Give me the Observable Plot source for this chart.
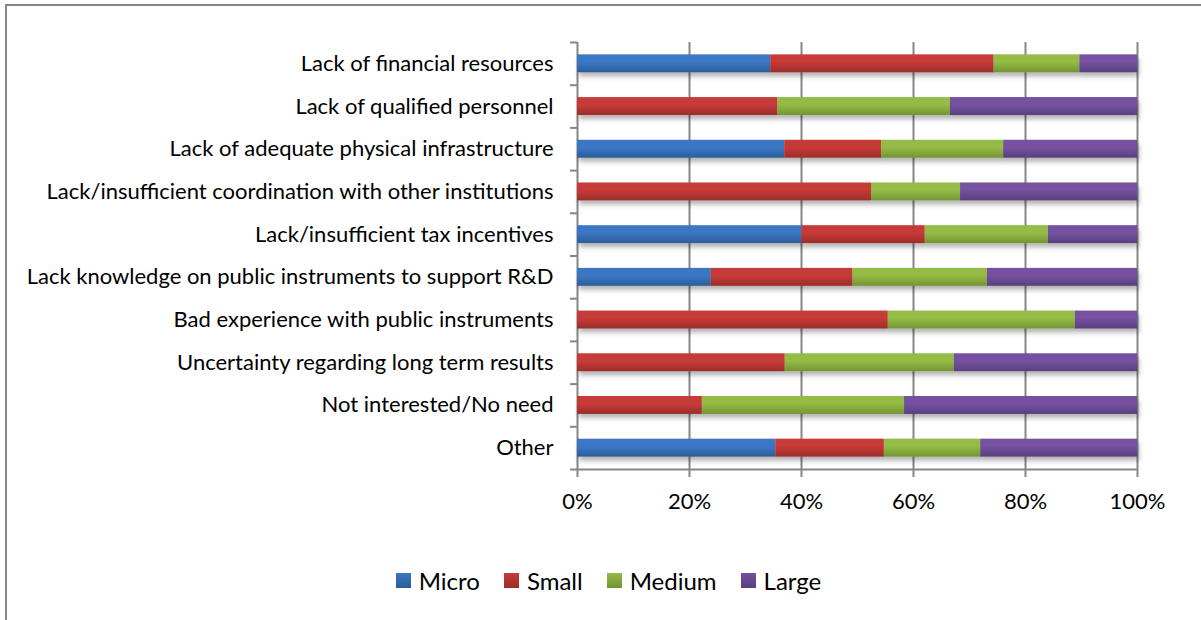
<!DOCTYPE html>
<html>
<head>
<meta charset="utf-8">
<script src="https://cdn.jsdelivr.net/npm/d3@7"></script>
<script src="https://cdn.jsdelivr.net/npm/@observablehq/plot@0.6"></script>
<style>
  html, body { margin: 0; padding: 0; background: #fff; }
  #wrap { position: relative; width: 1201px; height: 620px; overflow: hidden; font-family: Lato, "Open Sans", sans-serif; }
  #frame { position: absolute; left: 5px; top: 4px; width: 1200px; height: 640px; border-left: 2px solid #868686; border-top: 2px solid #868686; box-sizing: border-box; }
  #chart { position: absolute; left: 0; top: 0; }
  #legend { position: absolute; top: 566px; left: 0; width: 1201px; display: flex; justify-content: center; padding-left: 16px; box-sizing: border-box; font-size: 24px; color: #000; }
  .item { display: flex; align-items: center; margin: 0 12px; }
  .sw { width: 15px; height: 15px; margin-right: 8px; }
</style>
</head>
<body>
<div id="wrap">
  <div id="frame"></div>
  <div id="chart"></div>
  <div id="legend"></div>
</div>
<script>
const categories = [
  "Lack of financial resources",
  "Lack of qualified personnel",
  "Lack of adequate physical infrastructure",
  "Lack/insufficient coordination with other institutions",
  "Lack/insufficient tax incentives",
  "Lack knowledge on public instruments to support R&D",
  "Bad experience with public instruments",
  "Uncertainty regarding long term results",
  "Not interested/No need",
  "Other"
];
const sizes = ["Micro", "Small", "Medium", "Large"];
const micro  = [34.5,  0.0, 37.0,  0.0, 40.1, 23.9,  0.0,  0.0,  0.0, 35.4];
const small  = [39.9, 35.8, 17.3, 52.5, 22.0, 25.3, 55.5, 37.1, 22.3, 19.4];
const medium = [15.3, 30.8, 21.8, 15.9, 22.0, 24.0, 33.4, 30.2, 36.1, 17.2];
const large  = [10.3, 33.4, 23.9, 31.6, 15.9, 26.8, 11.1, 32.7, 41.6, 28.0];
const xTicks = [0, 0.2, 0.4, 0.6, 0.8, 1.0];
const colors = {Micro: "#3a77c5", Small: "#c63a37", Medium: "#93bb44", Large: "#7451a0"};
const colorsDark = {Micro: "#2d5c98", Small: "#9c2c2a", Medium: "#739433", Large: "#5a3f7d"};

const seriesValues = [micro, small, medium, large];
const rows = [];
categories.forEach((c, i) => {
  sizes.forEach((s, j) => {
    rows.push({category: c, size: s, value: seriesValues[j][i] / 100});
  });
});

const W = 1201, H = 540;
const mTop = 42, mBottom = 71, mLeft = 577, mRight = 64;
const step = (H - mTop - mBottom) / categories.length;
const gray = "#868686";

const chart = Plot.plot({
  width: W,
  height: H,
  marginTop: mTop,
  marginBottom: mBottom,
  marginLeft: mLeft,
  marginRight: mRight,
  style: {fontFamily: "Lato, 'Open Sans', sans-serif", fontSize: "22px", color: "#000", background: "transparent"},
  x: {domain: [0, 1], ticks: xTicks, tickFormat: d3.format(".0%")},
  y: {domain: categories, paddingInner: 0.58, paddingOuter: 0.29, round: false},
  color: {domain: sizes, range: sizes.map(s => `url(#grad-${s})`)},
  marks: [
    Plot.gridX(xTicks, {stroke: gray, strokeOpacity: 1, strokeWidth: 2}),
    Plot.axisX({ticks: xTicks, tickSize: 8, tickPadding: 16, stroke: gray, strokeWidth: 2, label: null, tickFormat: d3.format(".0%"), fontSize: 22}),
    Plot.ruleY([categories[categories.length - 1]], {x1: 0, x2: 1, dy: step / 2, stroke: gray, strokeWidth: 2}),
    Plot.axisY({tickSize: 7, tickFormat: () => "", dy: -step / 2, stroke: gray, strokeWidth: 2, label: null}),
    Plot.axisY([categories[categories.length - 1]], {tickSize: 7, tickFormat: () => "", dy: step / 2, stroke: gray, strokeWidth: 2, label: null}),
    Plot.axisY({tickSize: 0, tickPadding: 24, label: null, fontSize: 22}),
    Plot.barX(rows, Plot.stackX({x: "value", y: "category", fill: "size", order: sizes, filter: d => d.value > 0}))
  ]
});

// gradients and shadow
const svgNS = "http://www.w3.org/2000/svg";
const defs = document.createElementNS(svgNS, "defs");
sizes.forEach(s => {
  const g = document.createElementNS(svgNS, "linearGradient");
  g.setAttribute("id", `grad-${s}`);
  g.setAttribute("x1", "0"); g.setAttribute("y1", "0");
  g.setAttribute("x2", "0"); g.setAttribute("y2", "1");
  [["0", colors[s]], ["0.45", colors[s]], ["1", colorsDark[s]]].forEach(([o, c]) => {
    const st = document.createElementNS(svgNS, "stop");
    st.setAttribute("offset", o); st.setAttribute("stop-color", c);
    g.appendChild(st);
  });
  defs.appendChild(g);
});
const f = document.createElementNS(svgNS, "filter");
f.setAttribute("id", "shadow");
f.setAttribute("x", "-5%"); f.setAttribute("y", "-30%");
f.setAttribute("width", "110%"); f.setAttribute("height", "190%");
const ds = document.createElementNS(svgNS, "feDropShadow");
ds.setAttribute("dx", "2"); ds.setAttribute("dy", "4");
ds.setAttribute("stdDeviation", "2.5"); ds.setAttribute("flood-color", "#000");
ds.setAttribute("flood-opacity", "0.3");
f.appendChild(ds);
defs.appendChild(f);
chart.insertBefore(defs, chart.firstChild);
chart.querySelectorAll("g[aria-label='bar']").forEach(g => g.setAttribute("filter", "url(#shadow)"));

document.getElementById("chart").appendChild(chart);

const legend = document.getElementById("legend");
sizes.forEach(s => {
  const item = document.createElement("div");
  item.className = "item";
  const sw = document.createElement("div");
  sw.className = "sw";
  sw.style.background = `linear-gradient(${colors[s]}, ${colorsDark[s]})`;
  const t = document.createElement("span");
  t.textContent = s;
  item.appendChild(sw); item.appendChild(t);
  legend.appendChild(item);
});
</script>
</body>
</html>
